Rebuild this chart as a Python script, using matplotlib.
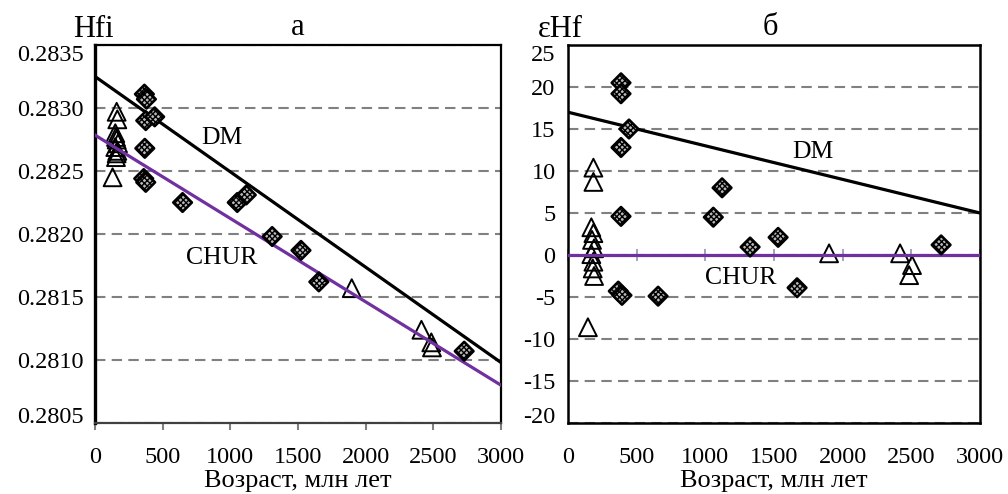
import numpy as np
import matplotlib.pyplot as plt

plt.rcParams['font.family'] = ['Liberation Serif', 'DejaVu Serif']
plt.rcParams['font.size'] = 17.5
plt.rcParams['axes.unicode_minus'] = False

# reference lines (age, Ma)
ref_age = [0, 3000]
hf_dm = [0.28325, 0.28098]
hf_chur = [0.282785, 0.28080]
eps_dm = [17.0, 5.0]
eps_chur = [0.0, 0.0]

# panel a: Hf initial ratio
hf_dia_age = [365, 380, 375, 441, 368, 360, 375, 647, 1051, 1118, 1309, 1522, 1654, 2728]
hf_dia = [0.28311, 0.28307, 0.28290, 0.28293, 0.28268, 0.28244, 0.28241,
          0.28225, 0.28225, 0.28231, 0.28198, 0.28187, 0.28162, 0.28107]
hf_tri_age = [160, 165, 150, 155, 160, 170, 150, 165, 160, 155, 130, 1897, 2412, 2485, 2490]
hf_tri = [0.28297, 0.28291, 0.28280, 0.28277, 0.28275, 0.28272, 0.28269, 0.28266,
          0.28264, 0.28261, 0.28245, 0.28157, 0.28124, 0.28114, 0.28110]

# panel b: epsilon Hf
eps_dia_age = [386, 386, 444, 386, 386, 1122, 1058, 1326, 1530, 2717, 1668, 366, 393, 656]
eps_dia = [20.5, 19.2, 15.0, 12.8, 4.6, 8.0, 4.5, 0.95, 2.1, 1.2, -3.9, -4.3, -4.8, -4.9]
eps_tri_age = [185, 185, 170, 185, 175, 190, 170, 185, 180, 190, 145, 1901, 2418, 2505, 2484]
eps_tri = [10.4, 8.7, 3.3, 2.6, 1.8, 0.8, 0.1, -0.8, -1.6, -2.5, -8.6, 0.2, 0.2, -1.2, -2.4]

x_ticks = [0, 500, 1000, 1500, 2000, 2500, 3000]
hf_ticks = [0.2805, 0.2810, 0.2815, 0.2820, 0.2825, 0.2830, 0.2835]
eps_ticks = [-20, -15, -10, -5, 0, 5, 10, 15, 20, 25]

purple = '#7030A0'
fs_lab = 19
fs_note = 18.5
fs_head = 22
grid_kw = dict(axis='y', color='#808080', linestyle=(0, (5, 3)), linewidth=1.5)
dia_kw = dict(marker='D', s=90, facecolor='#b8b8b8', edgecolor='black',
              hatch='xxxxxx', linewidths=1.9, zorder=4)
tri_kw = dict(marker='^', s=165, facecolor='none', edgecolor='black',
              linewidths=1.4, zorder=2)

fig = plt.figure(figsize=(10.08, 4.94), dpi=100)
W, H = 1008, 494
ax1 = fig.add_axes([95 / W, 1 - 423 / H, (501 - 95) / W, (423 - 45) / H])
ax2 = fig.add_axes([568 / W, 1 - 423 / H, (980 - 568) / W, (423 - 45) / H])

# --- panel a
ax1.plot(ref_age, hf_dm, color='black', lw=2.3, zorder=3)
ax1.plot(ref_age, hf_chur, color=purple, lw=2.3, zorder=3)
ax1.scatter(hf_tri_age, hf_tri, **tri_kw)
ax1.scatter(hf_dia_age, hf_dia, **dia_kw)
ax1.set_xlim(0, 3000)
ax1.set_ylim(0.2805, 0.2835)
ax1.set_xticks(x_ticks)
ax1.set_yticks(hf_ticks)
ax1.set_yticklabels([f'{v:.4f}' for v in hf_ticks])
ax1.grid(**grid_kw)
ax1.set_axisbelow(True)
ax1.tick_params(axis='y', length=0, pad=8)
ax1.tick_params(axis='x', direction='out', length=5, width=1.5, color='#808080', pad=12)
for s in ax1.spines.values():
    s.set_linewidth(1.6)
ax1.spines['left'].set_linewidth(2.4)
ax1.spines['bottom'].set_color('#404040')
ax1.text(941, 0.282762, 'DM', ha='center', va='center', fontsize=fs_note)
ax1.text(934, 0.28181, 'CHUR', ha='center', va='center', fontsize=fs_note)
ax1.set_xlabel('Возраст, млн лет', labelpad=2, fontsize=fs_lab)
ax1.text(0.5, 1.027, 'а', transform=ax1.transAxes, ha='center', va='baseline', fontsize=fs_head)
ax1.text(-0.005, 1.02, 'Hfi', transform=ax1.transAxes, ha='center', va='baseline', fontsize=fs_head)

# --- panel b
ax2.plot(ref_age, eps_dm, color='black', lw=2.3, zorder=3)
ax2.plot(ref_age, eps_chur, color=purple, lw=2.3, zorder=3)
ax2.scatter(eps_tri_age, eps_tri, **tri_kw)
ax2.scatter(eps_dia_age, eps_dia, **dia_kw)
ax2.set_xlim(0, 3000)
ax2.set_ylim(-20, 25)
ax2.set_xticks(x_ticks)
ax2.set_yticks(eps_ticks)
ax2.grid(**grid_kw)
ax2.set_axisbelow(True)
ax2.tick_params(axis='y', length=0, pad=9)
ax2.tick_params(axis='x', length=0, pad=17)
for s in ax2.spines.values():
    s.set_linewidth(1.8)
ax2.text(1785, 12.3, 'DM', ha='center', va='center', fontsize=fs_note)
ax2.text(1260, -2.7, 'CHUR', ha='center', va='center', fontsize=fs_note)
ax2.set_xlabel('Возраст, млн лет', labelpad=2, fontsize=fs_lab)
ax2.text(0.49, 1.027, 'б', transform=ax2.transAxes, ha='center', va='baseline', fontsize=fs_head)
ax2.text(-0.018, 1.02, 'εHf', transform=ax2.transAxes, ha='center', va='baseline', fontsize=fs_head)

# end labels kept inside the plot height, as in the original
for ax in (ax1, ax2):
    labs = ax.get_yticklabels()
    labs[-1].set_verticalalignment('top')
    labs[0].set_verticalalignment('baseline')

# x axis crossing at zero
zero_pos = (0 - ax2.get_ylim()[0]) / (ax2.get_ylim()[1] - ax2.get_ylim()[0])
sec = ax2.secondary_xaxis(zero_pos)
sec.set_xticks(x_ticks)
sec.tick_params(direction='inout', length=8, width=1.2, color='#8c96b4',
                labelbottom=False, labeltop=False)
for s in sec.spines.values():
    s.set_visible(False)

fig.savefig('out.png', dpi=100)
